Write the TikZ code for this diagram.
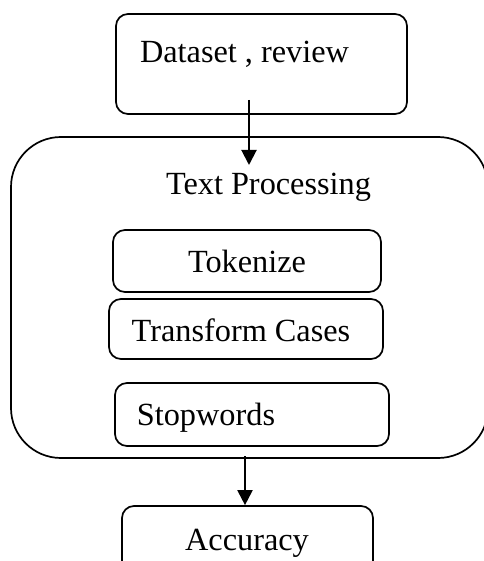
\documentclass[tikz,border=0pt]{standalone}
\usepackage{fontspec}
\setmainfont{Liberation Serif}
\usetikzlibrary{arrows.meta}
\begin{document}
\begin{tikzpicture}[x=1pt,y=-1pt,
  box/.style={draw, line width=1.7pt, rounded corners=12pt, inner sep=0pt},
  lbl/.style={font=\fontsize{32.3}{38}\selectfont, inner sep=0pt, anchor=base},
  arr/.style={line width=2pt, -{Triangle[width=15pt,length=15pt]}}]
\useasboundingbox (0,0) rectangle (483,561);
% boxes
\node[box, minimum width=291pt, minimum height=100pt] (data) at (261.5,64) {};
\node[lbl] (datat) at (244.5,63) {Dataset , review};
\node[box, rounded corners=50pt, minimum width=477pt, minimum height=321pt] (tp) at (249.5,297.5) {};
\node[lbl] (tpt) at (268.5,194) {Text Processing};
\node[box, minimum width=268pt, minimum height=62pt] (tok) at (247,261) {};
\node[lbl] (tokt) at (247,272) {Tokenize};
\node[box, minimum width=274pt, minimum height=60pt] (tc) at (246,329) {};
\node[lbl] (tct) at (241,341) {Transform Cases};
\node[box, minimum width=274pt, minimum height=63pt] (sw) at (252,414.5) {};
\node[lbl] (swt) at (206,425) {Stopwords};
\node[box, minimum width=251pt, minimum height=80pt] (acc) at (247.5,546) {};
\node[lbl] (acct) at (247,550) {Accuracy};
% arrows
\coordinate (a1) at (249,100);
\coordinate (a1e) at (249,165);
\coordinate (a2) at (245,456);
\draw[arr] (a1) -- (a1e);
\draw[arr] (a2) -- (a2 |- acc.north);
\end{tikzpicture}
\end{document}
